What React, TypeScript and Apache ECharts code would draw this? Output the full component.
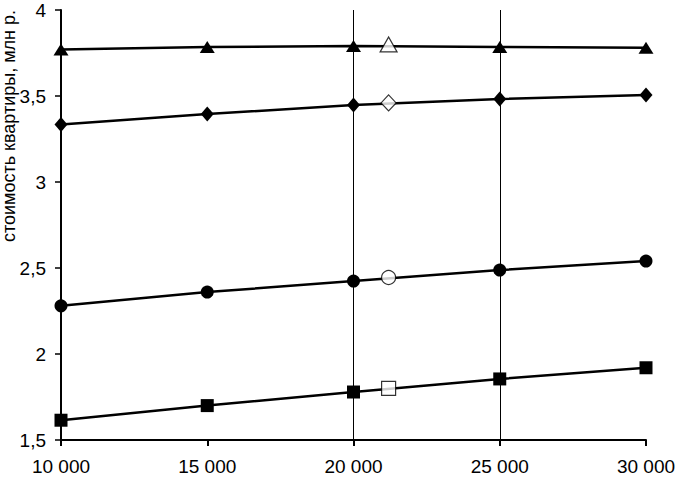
import React, { useEffect, useRef } from "react";
import * as echarts from "echarts";

const xValues = [10000, 15000, 20000, 25000, 30000];
const triangles = [3.77, 3.785, 3.79, 3.785, 3.78];
const diamonds = [3.335, 3.395, 3.448, 3.483, 3.506];
const circles = [2.28, 2.36, 2.424, 2.488, 2.54];
const squares = [1.615, 1.7, 1.779, 1.855, 1.92];
const openX = 21200;
const openTriangle = 3.8;
const openDiamond = 3.46;
const openCircle = 2.445;
const openSquare = 1.8;
const gridLinesX = [20000, 25000];
const yAxisTitle = "стоимость квартиры, млн р.";

const FONT = "Liberation Sans, Arial, sans-serif";

export default function App() {
  const ref = useRef<HTMLDivElement>(null);
  useEffect(() => {
    if (!ref.current) return;
    const chart = echarts.init(ref.current, undefined, { renderer: "svg" });
    const pair = (ys: number[]) => xValues.map((x, i) => [x, ys[i]]);
    const lineSeries = (name: string, ys: number[], symbol: string, size: any, extra: any = {}) => ({
      name,
      type: "line",
      data: pair(ys),
      symbol,
      symbolSize: size,
      lineStyle: { color: "#000", width: 2.5 },
      itemStyle: { color: "#000", borderWidth: 0 },
      z: 3,
      ...extra,
    });
    const openSeries = (name: string, y: number, symbol: string, size: any) => ({
      name,
      type: "scatter",
      data: [[openX, y]],
      symbol,
      symbolSize: size,
      itemStyle: { color: "#fff", borderColor: "#000", borderWidth: 1.2 },
      z: 5,
    });
    chart.setOption({
      animation: false,
      backgroundColor: "#fff",
      grid: { left: 61, right: 31, top: 10, bottom: 37, outerBoundsMode: "none", containLabel: false },
      xAxis: {
        type: "value",
        min: 10000,
        max: 30000,
        interval: 5000,
        axisLine: { show: true, lineStyle: { color: "#000", width: 2 } },
        axisTick: { show: true, length: 6, lineStyle: { color: "#000", width: 2 } },
        splitLine: { show: false },
        axisLabel: {
          color: "#000",
          fontFamily: FONT,
          fontSize: 19,
          lineHeight: 19,
          margin: 17,
          formatter: (v: number) => {
            const s = String(Math.round(v));
            return s.replace(/\B(?=(\d{3})+(?!\d))/g, " ");
          },
        },
      },
      yAxis: {
        type: "value",
        min: 1.5,
        max: 4,
        interval: 0.5,
        axisLine: { show: true, lineStyle: { color: "#000", width: 2 } },
        axisTick: { show: true, length: 6, lineStyle: { color: "#000", width: 1.5 } },
        splitLine: { show: false },
        axisLabel: {
          color: "#000",
          fontFamily: FONT,
          fontSize: 19,
          margin: 15,
          formatter: (v: number) => String(v).replace(".", ","),
        },
      },
      graphic: [
        {
          type: "text",
          x: 9,
          y: 242,
          rotation: Math.PI / 2,
          style: {
            text: yAxisTitle,
            fill: "#000",
            font: `18px ${FONT}`,
            textAlign: "left",
            textVerticalAlign: "middle",
          },
        },
      ],
      series: [
        lineSeries("triangles", triangles, "triangle", [15, 12], {
          markLine: {
            silent: true,
            symbol: ["none", "none"],
            label: { show: false },
            lineStyle: { color: "#000", width: 1, type: "solid" },
            data: gridLinesX.map((x) => ({ xAxis: x })),
            z: 1,
          },
        }),
        lineSeries("diamonds", diamonds, "diamond", [13, 15]),
        lineSeries("circles", circles, "circle", 13),
        lineSeries("squares", squares, "rect", 13),
        openSeries("openTriangle", openTriangle, "triangle", [17, 15]),
        openSeries("openDiamond", openDiamond, "diamond", [15, 16]),
        openSeries("openCircle", openCircle, "circle", 14),
        openSeries("openSquare", openSquare, "rect", 14),
      ],
    });
    return () => chart.dispose();
  }, []);
  return <div ref={ref} style={{ width: 677, height: 477, position: "absolute", left: 0, top: 0 }} />;
}
